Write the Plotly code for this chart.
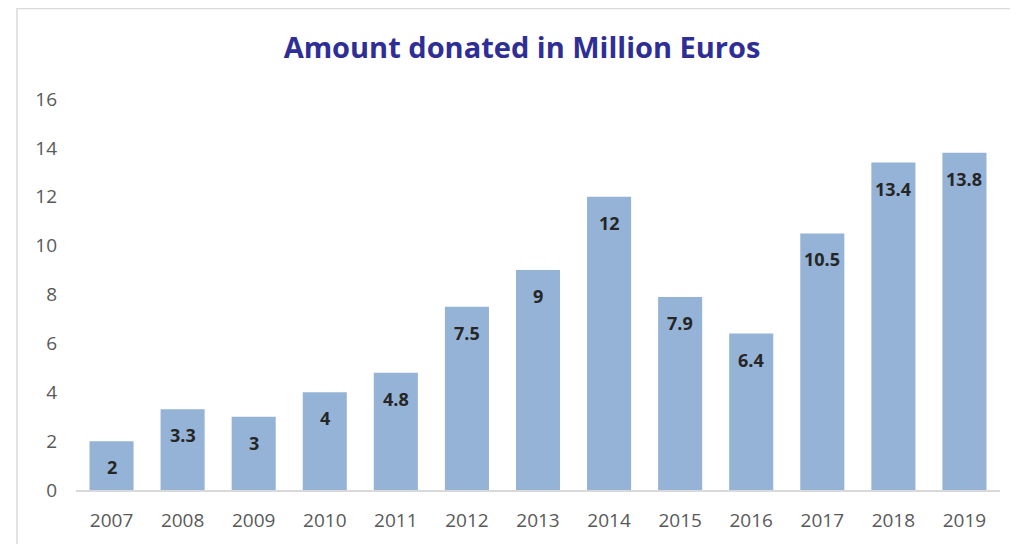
import plotly.graph_objects as go

years = ["2007", "2008", "2009", "2010", "2011", "2012", "2013",
         "2014", "2015", "2016", "2017", "2018", "2019"]
amounts = [2, 3.3, 3, 4, 4.8, 7.5, 9, 12, 7.9, 6.4, 10.5, 13.4, 13.8]
y_ticks = [0, 2, 4, 6, 8, 10, 12, 14, 16]
title_text = "Amount donated in Million Euros"

# page body has an 8px margin, so figure coords are window coords - 8
W, H = 1018, 544
L, R, T, B = 68, 26, 91, 62
pw, ph = W - L - R, H - T - B
FONT = "Open Sans, Lato, sans-serif"

fig = go.Figure()
fig.add_trace(go.Bar(
    x=list(range(len(years))), y=amounts,
    marker=dict(color="#95B3D7", line=dict(width=0)),
    hovertext=years, hoverinfo="text+y",
))

for i, v in enumerate(amounts):
    fig.add_annotation(
        x=i, y=v, text=f"<b>{v:g}</b>", showarrow=False,
        yanchor="middle", yshift=-26,
        font=dict(family=FONT, size=18, color="#262626"),
    )

# outer frame (light border like in the reference)
fig.add_shape(
    type="rect", xref="paper", yref="paper",
    x0=(9 - L) / pw, x1=(W + 10 - L) / pw,
    y0=-(H + 10 - (T + ph)) / ph, y1=(T + ph - 0.5) / ph,
    line=dict(color="#D9D9D9", width=1.5), fillcolor="rgba(0,0,0,0)", layer="below",
)

fig.update_layout(
    width=W, height=H,
    margin=dict(l=L, r=R, t=T, b=B),
    paper_bgcolor="white", plot_bgcolor="white",
    bargap=0.38,
    showlegend=False,
    title=dict(
        text=f"<b>{title_text}</b>", x=514 / W, xanchor="center",
        y=1 - 40 / H, yanchor="middle",
        font=dict(family=FONT, size=29, color="#2E2E96"),
    ),
    xaxis=dict(
        range=[-0.5, len(years) - 0.5],
        tickvals=list(range(len(years))), ticktext=years,
        showgrid=False, zeroline=False,
        showline=True, linecolor="#D9D9D9", linewidth=1.5,
        ticks="", tickfont=dict(family=FONT, size=19, color="#595959"),
        ticklabelstandoff=12,
    ),
    yaxis=dict(
        range=[0, 16], tickvals=y_ticks, showgrid=False, zeroline=False,
        showline=False, ticks="",
        tickfont=dict(family=FONT, size=19, color="#595959"),
        ticklabelstandoff=18,
    ),
)

fig.write_html("out.html")
